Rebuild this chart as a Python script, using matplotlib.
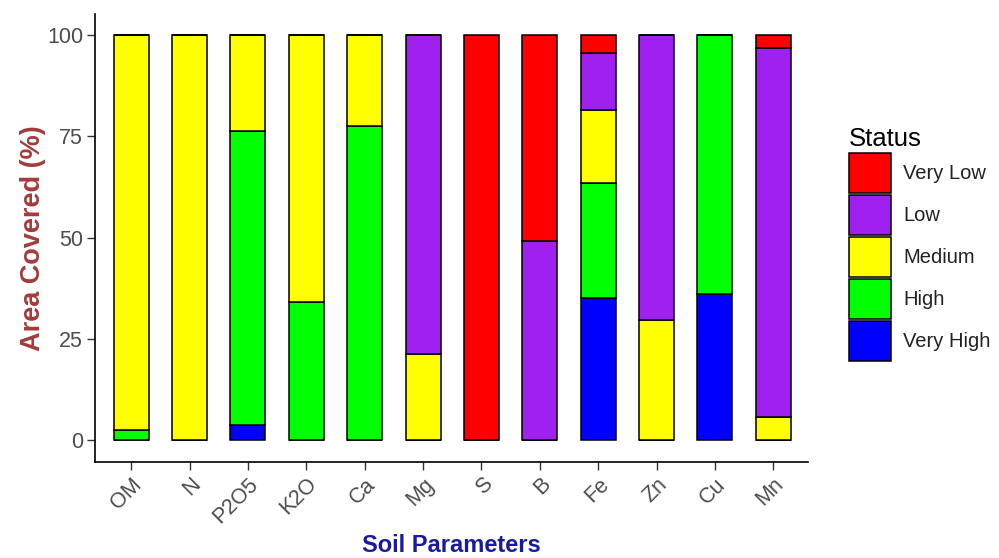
#!/usr/bin/env python3
"""
Stacked bar chart of soil nutrient status
"""

import matplotlib
matplotlib.use('Agg')  # Use non-interactive backend
import matplotlib.pyplot as plt
from matplotlib.patches import Patch
import numpy as np

# Soil parameters on the x axis
params = ['OM', 'N', 'P2O5', 'K2O', 'Ca', 'Mg', 'S', 'B', 'Fe', 'Zn', 'Cu', 'Mn']

# Area covered (%) for each status class
very_high = [0, 0, 3.7, 0, 0, 0, 0, 0, 35.2, 0, 36.0, 0]
high = [2.5, 0, 72.5, 34.2, 77.6, 0, 0, 0, 28.3, 0, 64.0, 0]
medium = [97.5, 100, 23.8, 65.8, 22.4, 21.2, 0, 0, 18.1, 29.7, 0, 5.8]
low = [0, 0, 0, 0, 0, 78.8, 0, 49.1, 13.9, 70.3, 0, 91.0]
very_low = [0, 0, 0, 0, 0, 0, 100, 50.9, 4.5, 0, 0, 3.2]

status = ['Very Low', 'Low', 'Medium', 'High', 'Very High']
colors = ['#FF0000', '#A020F0', '#FFFF00', '#00FF00', '#0000FF']

plt.rcParams['font.family'] = ['Liberation Sans', 'DejaVu Sans']

fig = plt.figure(figsize=(9.99, 5.58), dpi=100)
ax = fig.add_axes([0.0951, 0.172, 0.7135, 0.803])

x = np.arange(len(params))
width = 0.6

# stack from the bottom: Very High first
series = [very_high, high, medium, low, very_low]
series_colors = colors[::-1]
bottom = np.zeros(len(params))
for vals, col in zip(series, series_colors):
    vals = np.array(vals)
    ax.bar(x, vals, width=width, bottom=bottom, color=col,
           edgecolor='black', linewidth=1.1)
    bottom += vals

ax.set_xlim(-0.62, len(params) - 1 + 0.59)
ax.set_ylim(-5.4, 105.2)
ax.set_yticks([0, 25, 50, 75, 100])
ax.set_xticks(x)
ax.set_xticklabels(params, rotation=45, ha='right', rotation_mode='anchor')

ax.tick_params(axis='both', colors='#333333', labelcolor='#4d4d4d',
               labelsize=15.5, length=5.5, width=1, pad=3)
for side in ['top', 'right']:
    ax.spines[side].set_visible(False)
for side in ['left', 'bottom']:
    ax.spines[side].set_color('black')
    ax.spines[side].set_linewidth(1.2)

ax.set_ylabel('Area Covered (%)', fontsize=19.5, fontweight='bold',
              color='#A33B3B', labelpad=1)
ax.set_xlabel('Soil Parameters', fontsize=17, fontweight='bold',
              color='#1A1AA0', labelpad=5)

# Legend
handles = [Patch(facecolor=c, edgecolor='black', linewidth=1.1) for c in colors]
leg = fig.legend(handles, status, title='Status', loc='upper left',
                 bbox_to_anchor=(0.842, 0.787), frameon=False, fontsize=14.5,
                 title_fontsize=18.5, handlelength=2.09, handleheight=2.68,
                 labelspacing=0.1, handletextpad=0.58, borderaxespad=0)
leg._legend_box.align = 'left'
for t in leg.get_texts():
    t.set_color('#222222')

plt.savefig('out.png', dpi=100)
plt.close()
